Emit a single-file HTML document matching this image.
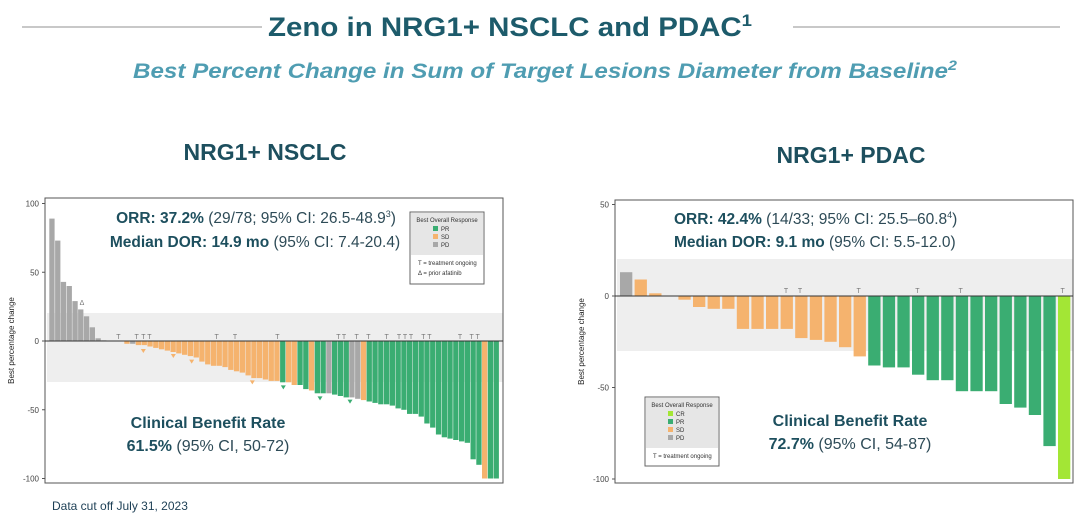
<!DOCTYPE html>
<html><head><meta charset="utf-8"><style>
body{margin:0;background:#fff;width:1080px;height:518px;overflow:hidden;font-family:"Liberation Sans",sans-serif}
svg text{font-family:"Liberation Sans",sans-serif}
</style></head><body>
<svg id="s" width="1080" height="518" xmlns="http://www.w3.org/2000/svg">
<line x1="22" y1="27" x2="262" y2="27" stroke="#c8c8c8" stroke-width="2"/>
<line x1="793" y1="27" x2="1060" y2="27" stroke="#c8c8c8" stroke-width="2"/>
<text x="510" y="36" text-anchor="middle" font-size="27" font-weight="bold" fill="#1d5b6b" textLength="484" lengthAdjust="spacingAndGlyphs">Zeno in NRG1+ NSCLC and PDAC<tspan font-size="17" dy="-10">1</tspan></text>
<text x="545" y="78" text-anchor="middle" font-size="21" font-weight="bold" font-style="italic" fill="#4f9db2" textLength="824" lengthAdjust="spacingAndGlyphs">Best Percent Change in Sum of Target Lesions Diameter from Baseline<tspan font-size="14" dy="-8">2</tspan></text>
<text x="265" y="160" text-anchor="middle" font-size="23" font-weight="bold" fill="#1d4f5e">NRG1+ NSCLC</text>
<text x="851" y="163" text-anchor="middle" font-size="23" font-weight="bold" fill="#1d4f5e">NRG1+ PDAC</text>
<text x="52" y="510" font-size="12" fill="#1d3f55">Data cut off July 31, 2023</text>
<g id="g"></g>
</svg>
<script>
var g=document.getElementById('g'),h='';
var G='#3aad72',O='#f5b36e',P='#a8a8a8',C='#a3e635';
function chart(o){
 h+='<rect x="'+o.x0+'" y="'+o.bt+'" width="'+(o.x1-o.x0)+'" height="'+(o.bb-o.bt)+'" fill="#eeeeee"/>';
 h+='<rect x="'+o.fx0+'" y="'+o.fy0+'" width="'+(o.fx1-o.fx0)+'" height="'+(o.fy1-o.fy0)+'" fill="none" stroke="#555" stroke-width="1"/>';
 o.ticks.forEach(function(t){var y=o.z-t*o.k;h+='<text x="'+(o.fx0-6)+'" y="'+(y+3)+'" text-anchor="end" font-size="8" fill="#444">'+t+'</text><line x1="'+(o.fx0-3)+'" x2="'+o.fx0+'" y1="'+y+'" y2="'+y+'" stroke="#555"/>';});
 h+='<text transform="translate('+(o.fx0-31)+','+((o.fy0+o.fy1)/2)+') rotate(-90)" text-anchor="middle" font-size="8" fill="#222">Best percentage change</text>';
 var w=o.step*o.bw;
 o.v.forEach(function(b,i){var x=o.bx+i*o.step,v=b[0],c=b[1];var y=v>0?o.z-v*o.k:o.z;var hh=Math.abs(v)*o.k;if(hh>0)h+='<rect x="'+x.toFixed(1)+'" y="'+y.toFixed(1)+'" width="'+w.toFixed(1)+'" height="'+hh.toFixed(1)+'" fill="'+c+'"/>';});
 h+='<line x1="'+o.fx0+'" x2="'+o.fx1+'" y1="'+o.z+'" y2="'+o.z+'" stroke="#333" stroke-width="1"/>';
 o.T.forEach(function(x){h+='<text x="'+x+'" y="'+o.ty+'" text-anchor="middle" font-size="7" fill="#777">T</text>';});
}
var L=[[89,P],[73,P],[43,P],[40,P],[29,P],[23,P],[18,P],[10,P],[2,P],[0.5,P],[0,P],[0,P],[0,P],[-2,O],[-2,P],[-3,O],[-3,O],[-4,O],[-5,O],[-6,O],[-7,O],[-8,O],[-9,O],[-10,O],[-11,O],[-12,O],[-15,O],[-17,O],[-18,O],[-18,O],[-19,O],[-21,O],[-22,O],[-23,O],[-25,O],[-27,O],[-27,O],[-28,O],[-29,O],[-29,O],[-30,G],[-30,O],[-32,O],[-32,G],[-35,G],[-36,O],[-38,G],[-38,G],[-38,P],[-39,G],[-40,G],[-41,G],[-41,P],[-42,P],[-43,O],[-44,G],[-45,G],[-46,G],[-46,G],[-47,G],[-49,G],[-50,G],[-53,G],[-53,G],[-55,G],[-60,G],[-63,G],[-68,G],[-70,G],[-71,G],[-72,G],[-74,G],[-86,G],[-90,G],[-74,G],[-100,O],[-100,G],[-100,G]];
L.splice(74,1);L.splice(71,0,[-73,G]);
chart({x0:47,x1:503,fx0:45,fx1:503,fy0:198,fy1:483,z:341,k:1.375,bt:313,bb:382,ticks:[100,50,0,-50,-100],bx:49.3,step:5.77,bw:0.92,v:L,
 T:[355,410,430,448,650,705,832,1015,1032,1070,1105,1160,1197,1215,1233,1270,1288,1380,1415,1433].map(function(x){return x/3}),ty:339});
[[430,483,O],[520,498,O],[575,515,O],[757,577,O],[850,592,G],[960,625,G],[1050,635,G]].forEach(function(t){var x=t[0]/3,y=190+t[1]/3;h+='<polygon points="'+(x-2.5)+','+(y-2)+' '+(x+2.5)+','+(y-2)+' '+x+','+(y+2)+'" fill="'+t[2]+'"/>';});
h+='<text x="82" y="305" text-anchor="middle" font-size="7" fill="#777">&#916;</text>';
var R=[[13,P],[9,O],[1.5,O],[0,O],[-2,O],[-6,O],[-7,O],[-7,O],[-18,O],[-18,O],[-18,O],[-18,O],[-23,O],[-24,O],[-25,O],[-28,O],[-33,O],[-38,G],[-39,G],[-39,G],[-43,G],[-46,G],[-46,G],[-52,G],[-52,G],[-52,G],[-59,G],[-61,G],[-65,G],[-82,G],[-100,C]];
chart({x0:617,x1:1073,fx0:615,fx1:1073,fy0:200,fy1:483,z:296,k:1.83,bt:259,bb:351,ticks:[50,0,-50,-100],bx:620,step:14.6,bw:0.84,v:R,
 T:[648,690,866,1042,1172,1478].map(function(x){return 570+x/3}),ty:293});
function leg(x,y,w,items,extra){var hh=18+items.length*8;h+='<rect x="'+x+'" y="'+y+'" width="'+w+'" height="'+(hh+extra.length*11+8)+'" fill="#fff" stroke="#666"/><rect x="'+(x+1)+'" y="'+(y+1)+'" width="'+(w-2)+'" height="'+hh+'" fill="#e6e6e6"/>';
 h+='<text x="'+(x+w/2)+'" y="'+(y+10)+'" text-anchor="middle" font-size="6" fill="#333">Best Overall Response</text>';
 items.forEach(function(it,i){var yy=y+14+i*8;h+='<rect x="'+(x+w/2-14)+'" y="'+yy+'" width="5" height="5" fill="'+it[1]+'"/><text x="'+(x+w/2-6)+'" y="'+(yy+5)+'" font-size="6" fill="#333">'+it[0]+'</text>';});
 extra.forEach(function(e,i){h+='<text x="'+(x+8)+'" y="'+(y+hh+11+i*10)+'" font-size="6" fill="#333">'+e+'</text>';});}
leg(410,212,74,[['PR',G],['SD',O],['PD',P]],['T  = treatment ongoing','  &#916;  = prior afatinib']);
leg(645,397,74,[['CR',C],['PR',G],['SD',O],['PD',P]],['T  = treatment ongoing']);
var D='#1d4f5e',N='#2e4b57';
h+='<text x="256" y="223" text-anchor="middle" font-size="15.5" fill="'+N+'"><tspan font-weight="bold" fill="'+D+'">ORR: 37.2%</tspan> (29/78; 95% CI: 26.5-48.9<tspan font-size="9" dy="-6">3</tspan><tspan dy="6">)</tspan></text>';
h+='<text x="255" y="247" text-anchor="middle" font-size="15.5" fill="'+N+'"><tspan font-weight="bold" fill="'+D+'">Median DOR: 14.9 mo</tspan> (95% CI: 7.4-20.4)</text>';
h+='<text x="208" y="428" text-anchor="middle" font-size="16" font-weight="bold" fill="'+D+'">Clinical Benefit Rate</text>';
h+='<text x="208" y="451" text-anchor="middle" font-size="16" fill="'+N+'"><tspan font-weight="bold" fill="'+D+'">61.5%</tspan> (95% CI, 50-72)</text>';
h+='<text x="674" y="224" font-size="15.5" fill="'+N+'"><tspan font-weight="bold" fill="'+D+'">ORR: 42.4%</tspan> (14/33; 95% CI: 25.5–60.8<tspan font-size="9" dy="-6">4</tspan><tspan dy="6">)</tspan></text>';
h+='<text x="674" y="247" font-size="15.5" fill="'+N+'"><tspan font-weight="bold" fill="'+D+'">Median DOR: 9.1 mo</tspan> (95% CI: 5.5-12.0)</text>';
h+='<text x="850" y="426" text-anchor="middle" font-size="16" font-weight="bold" fill="'+D+'">Clinical Benefit Rate</text>';
h+='<text x="850" y="449" text-anchor="middle" font-size="16" fill="'+N+'"><tspan font-weight="bold" fill="'+D+'">72.7%</tspan> (95% CI, 54-87)</text>';
g.innerHTML=h;
</script>
</body></html>
